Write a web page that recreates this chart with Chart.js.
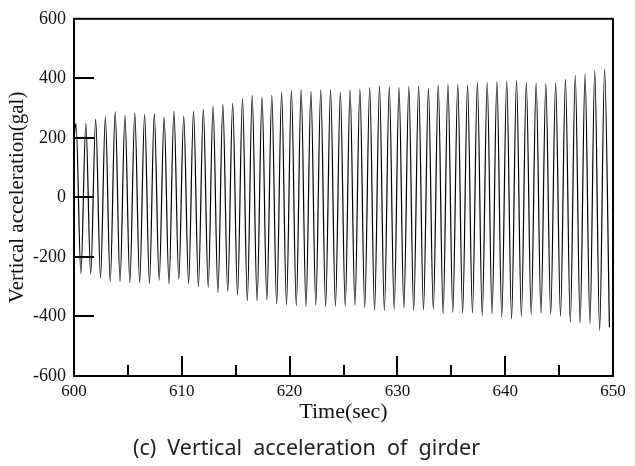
<!DOCTYPE html>
<html>
<head>
<meta charset="utf-8">
<script src="https://cdn.jsdelivr.net/npm/chart.js@4.4.0/dist/chart.umd.min.js"></script>
<style>
  html, body { margin: 0; padding: 0; background: #fff; }
  #wrap { width: 635px; height: 466px; }
</style>
</head>
<body>
<div id="wrap"><canvas id="accChart" width="635" height="466"></canvas></div>
<script>
// Readings of the girder response: crests and troughs (time in sec, acceleration in gal)
const startTime = [600.00];
const startAccel = [200];

const peakTime = [
    600.19, 601.10, 602.01, 602.91, 603.82, 604.73, 605.64, 606.55, 607.45, 608.36,
    609.27, 610.18, 611.09, 612.00, 612.90, 613.81, 614.72, 615.63, 616.53, 617.44,
    618.35, 619.26, 620.17, 621.07, 621.98, 622.89, 623.80, 624.71, 625.61, 626.52,
    627.43, 628.34, 629.25, 630.15, 631.06, 631.97, 632.88, 633.79, 634.69, 635.60,
    636.51, 637.42, 638.33, 639.23, 640.14, 641.05, 641.96, 642.87, 643.77, 644.68,
    645.59, 646.50, 647.41, 648.31, 649.22
];
const peakAccel = [
    248, 248, 262, 270, 287, 276, 283, 278, 281, 270,
    289, 272, 289, 296, 307, 312, 316, 331, 343, 337,
    343, 353, 359, 362, 356, 361, 362, 353, 361, 364,
    369, 374, 371, 369, 373, 374, 366, 378, 381, 380,
    378, 386, 386, 389, 391, 393, 386, 384, 382, 384,
    397, 410, 414, 426, 431
];

const troughTime = [
    600.64, 601.55, 602.46, 603.36, 604.27, 605.18, 606.09, 607.00, 607.90, 608.81,
    609.72, 610.63, 611.54, 612.45, 613.35, 614.26, 615.17, 616.08, 616.98, 617.89,
    618.80, 619.71, 620.62, 621.52, 622.43, 623.34, 624.25, 625.16, 626.06, 626.97,
    627.88, 628.79, 629.70, 630.60, 631.51, 632.42, 633.33, 634.24, 635.14, 636.05,
    636.96, 637.87, 638.78, 639.68, 640.59, 641.50, 642.41, 643.32, 644.22, 645.13,
    646.04, 646.95, 647.86, 648.76, 649.67
];
const troughAccel = [
    -256, -258, -271, -283, -283, -286, -286, -289, -278, -291,
    -274, -289, -300, -302, -319, -316, -328, -347, -347, -344,
    -358, -361, -364, -367, -362, -366, -366, -366, -363, -369,
    -380, -380, -376, -372, -380, -378, -376, -391, -386, -388,
    -388, -397, -391, -402, -408, -400, -393, -389, -393, -400,
    -419, -422, -424, -447, -436
];

const xTickLabels = [600, 610, 620, 630, 640, 650];
const xMinorTicks = [605, 615, 625, 635, 645];
const yTickLabels = [-600, -400, -200, 0, 200, 400, 600];
const yInnerTicks = [-400, -200, 0, 200, 400];

// crest, trough, crest, trough ... in time order
const points = [{ x: startTime[0], y: startAccel[0] }];
peakTime.forEach((t, i) => {
    points.push({ x: t, y: peakAccel[i] });
    points.push({ x: troughTime[i], y: troughAccel[i] });
});

const serif = 'Liberation Serif';

// box around the plot and inward tick marks
const frameTicks = {
    id: 'frameTicks',
    afterDatasetsDraw(chart) {
        const { ctx, chartArea: a, scales: { x, y } } = chart;
        ctx.save();
        ctx.strokeStyle = '#000';
        ctx.lineWidth = 2;
        ctx.strokeRect(a.left, a.top, a.right - a.left, a.bottom - a.top);
        ctx.beginPath();
        yInnerTicks.forEach(v => {
            const py = Math.round(y.getPixelForValue(v));
            ctx.moveTo(a.left, py);
            ctx.lineTo(a.left + 20, py);
        });
        xTickLabels.forEach(v => {
            const px = Math.round(x.getPixelForValue(v));
            ctx.moveTo(px, a.bottom);
            ctx.lineTo(px, a.bottom - 20);
        });
        xMinorTicks.forEach(v => {
            const px = Math.round(x.getPixelForValue(v));
            ctx.moveTo(px, a.bottom);
            ctx.lineTo(px, a.bottom - 11);
        });
        ctx.stroke();
        ctx.restore();
    }
};

new Chart(document.getElementById('accChart').getContext('2d'), {
    type: 'line',
    data: {
        datasets: [{
            data: points,
            borderColor: '#000',
            borderWidth: 1.2,
            pointRadius: 0,
            cubicInterpolationMode: 'monotone',
            fill: false
        }]
    },
    options: {
        responsive: false,
        animation: false,
        devicePixelRatio: 1,
        layout: { padding: { top: 16, right: 22, left: 0, bottom: 0 } },
        plugins: {
            legend: { display: false },
            tooltip: { enabled: false },
            title: {
                display: true,
                position: 'bottom',
                text: '(c)  Vertical  acceleration  of  girder',
                color: '#222',
                font: { family: 'Noto Sans', size: 21.5, weight: 'normal' },
                padding: { top: 0, bottom: 4 }
            }
        },
        scales: {
            x: {
                type: 'linear',
                min: 600,
                max: 650,
                afterBuildTicks: s => { s.ticks = xTickLabels.map(v => ({ value: v })); },
                afterFit: s => { s.height = 60.2; },
                grid: { display: false, drawTicks: false },
                border: { display: false },
                ticks: {
                    color: '#111',
                    font: { family: serif, size: 17 },
                    padding: 5,
                    maxRotation: 0,
                    autoSkip: false
                },
                title: {
                    display: true,
                    text: 'Time(sec)',
                    color: '#111',
                    font: { family: serif, size: 22 },
                    padding: { top: 0, bottom: 11 }
                }
            },
            y: {
                min: -600,
                max: 600,
                afterBuildTicks: s => { s.ticks = yTickLabels.map(v => ({ value: v })); },
                afterFit: s => { s.width = 74; },
                grid: { display: false, drawTicks: false },
                border: { display: false },
                ticks: {
                    color: '#111',
                    font: { family: serif, size: 18 },
                    padding: 8
                },
                title: {
                    display: true,
                    text: 'Vertical acceleration(gal)',
                    color: '#111',
                    font: { family: serif, size: 21 },
                    padding: { top: 5, bottom: 0 }
                }
            }
        }
    },
    plugins: [frameTicks]
});
</script>
</body>
</html>
